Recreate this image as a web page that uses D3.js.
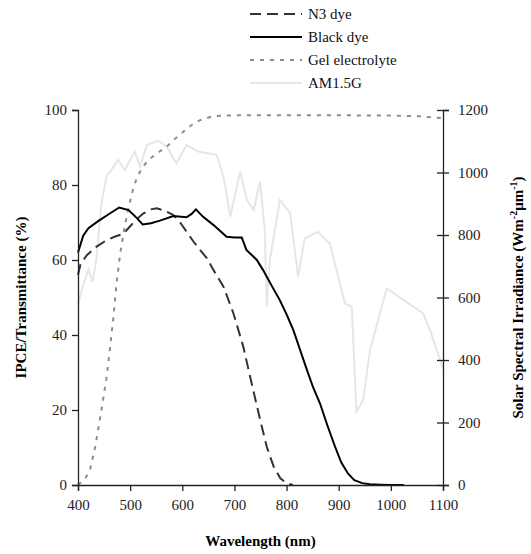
<!DOCTYPE html>
<html>
<head>
<meta charset="utf-8">
<script src="https://cdn.jsdelivr.net/npm/d3@7"></script>
<style>
  body { margin: 0; background: #fff; }
  svg text { font-family: 'Liberation Serif', 'DejaVu Serif', serif; }
  .tick text { font-size: 15px; fill: #222; }
  .axisLabel { font-size: 15px; font-weight: bold; }
  .legend text { font-size: 15px; fill: #111; }
</style>
</head>
<body>
<div id="chart"></div>
<script>
// wavelength (nm) / value pairs
var blackWl  = [400, 410, 420, 440, 461, 479, 497, 512, 524, 540, 557, 583, 608, 618, 626, 640, 660, 685, 700, 714, 723, 743, 755, 770, 787, 800, 813, 826, 839, 851, 864, 878, 893, 905, 918, 930, 945, 960, 980, 1000, 1025];
var blackVal = [62, 66.5, 68.5, 70.5, 72.4, 74, 73.3, 71.3, 69.5, 69.8, 70.5, 71.7, 71.4, 72.3, 73.5, 71.5, 69.3, 66.2, 66, 66, 62.7, 60, 57.3, 53.5, 49.3, 45.5, 41.3, 36, 30.7, 26, 21.8, 16, 10.2, 6, 3, 1.3, 0.5, 0.2, 0.1, 0, 0];

var n3Wl  = [400, 405, 417, 435, 455, 470, 487, 500, 512, 525, 540, 551, 565, 583, 596, 608, 621, 634, 647, 660, 679, 698, 717, 736, 750, 762, 775, 788, 800, 812];
var n3Val = [56, 59, 61.3, 63.5, 65.3, 66.2, 67, 69, 70.8, 72.4, 73.5, 73.8, 73.2, 72, 70, 67.6, 65, 62.7, 60.5, 57.3, 52.9, 45.8, 36.9, 25.3, 17, 10.2, 5, 1.8, 0.5, 0];

var gelWl  = [400, 407, 415, 423, 433, 445, 455, 461, 468, 474, 481, 489, 497, 505, 513, 525, 538, 555, 570, 585, 602, 618, 634, 660, 700, 800, 900, 1000, 1060, 1080, 1100];
var gelVal = [0, 0.9, 2, 4, 10.2, 20, 28.9, 36, 44.9, 53.8, 61.8, 68.5, 74, 78.5, 82, 85, 87, 88.8, 90.2, 92.2, 94.2, 96, 97.3, 98.4, 98.6, 98.6, 98.6, 98.5, 98.3, 98, 97.8];

var amWl  = [400, 410, 420, 428, 435, 445, 455, 465, 477, 490, 500, 509, 519, 532, 554, 570, 589, 608, 631, 666, 680, 692, 711, 724, 737, 749, 758, 762, 768, 787, 807, 822, 835, 860, 883, 912, 925, 934, 947, 960, 992, 1062, 1075, 1100];
var amVal = [580, 640, 690, 650, 720, 900, 990, 1010, 1040, 1008, 1040, 1067, 1019, 1088, 1102, 1083, 1029, 1088, 1067, 1056, 980, 859, 1003, 912, 880, 971, 820, 571, 720, 912, 869, 667, 790, 810, 773, 581, 571, 235, 272, 432, 629, 549, 496, 373];

var xTicks = [400, 500, 600, 700, 800, 900, 1000, 1100];
var yLeftTicks = [0, 20, 40, 60, 80, 100];
var yRightTicks = [0, 200, 400, 600, 800, 1000, 1200];

var legendNames = ["N3 dye", "Black dye", "Gel electrolyte", "AM1.5G"];

var width = 531;
var height = 554;
var margin = { top: 110, right: 88, bottom: 69, left: 78 };
var serif = "'Liberation Serif', 'DejaVu Serif', serif";

var svg = d3.select("#chart")
  .append("svg")
  .attr("width", width)
  .attr("height", height)
  .attr("font-family", serif);

var xScale = d3.scaleLinear()
  .domain([400, 1100])
  .range([margin.left, width - margin.right]);

var yLeft = d3.scaleLinear()
  .domain([0, 100])
  .range([height - margin.bottom, margin.top]);

var yRight = d3.scaleLinear()
  .domain([0, 1200])
  .range([height - margin.bottom, margin.top]);

function zip(a, b) {
  return a.map(function(d, i) { return [d, b[i]]; });
}

var lineLeft = d3.line()
  .x(function(d) { return xScale(d[0]); })
  .y(function(d) { return yLeft(d[1]); });

var lineRight = d3.line()
  .x(function(d) { return xScale(d[0]); })
  .y(function(d) { return yRight(d[1]); });

// series, drawn back to front
svg.append("path")
  .datum(zip(amWl, amVal))
  .attr("d", lineRight)
  .attr("fill", "none")
  .attr("stroke", "#e6e6e6")
  .attr("stroke-width", 2);

svg.append("path")
  .datum(zip(gelWl, gelVal))
  .attr("d", lineLeft)
  .attr("fill", "none")
  .attr("stroke", "#8c8c8c")
  .attr("stroke-width", 2)
  .attr("stroke-dasharray", "4,6");

svg.append("path")
  .datum(zip(n3Wl, n3Val))
  .attr("d", lineLeft)
  .attr("fill", "none")
  .attr("stroke", "#333")
  .attr("stroke-width", 2)
  .attr("stroke-dasharray", "11,6");

svg.append("path")
  .datum(zip(blackWl, blackVal))
  .attr("d", lineLeft)
  .attr("fill", "none")
  .attr("stroke", "#000")
  .attr("stroke-width", 2);

// axes
var xAxis = svg.append("g")
  .attr("transform", `translate(0,${height - margin.bottom})`)
  .call(d3.axisBottom(xScale).tickValues(xTicks).tickSize(6).tickPadding(8).tickFormat(d3.format("d")));

var yAxisLeft = svg.append("g")
  .attr("transform", `translate(${margin.left},0)`)
  .call(d3.axisLeft(yLeft).tickValues(yLeftTicks).tickSize(6).tickPadding(5));

var yAxisRight = svg.append("g")
  .attr("transform", `translate(${width - margin.right},0)`)
  .call(d3.axisRight(yRight).tickValues(yRightTicks).tickSize(6).tickPadding(9).tickFormat(d3.format("d")));

// right axis ticks cross the line
yAxisRight.selectAll(".tick line").attr("x1", -6);

svg.selectAll("g").attr("font-family", serif).attr("font-size", 15);
svg.selectAll(".domain").attr("stroke", "#222").attr("stroke-width", 1.3);
svg.selectAll(".tick line").attr("stroke", "#222").attr("stroke-width", 1.3);

// axis titles
svg.append("text")
  .attr("class", "axisLabel")
  .attr("x", (margin.left + width - margin.right) / 2)
  .attr("y", height - 8)
  .attr("text-anchor", "middle")
  .text("Wavelength (nm)");

svg.append("text")
  .attr("class", "axisLabel")
  .attr("transform", "rotate(-90)")
  .attr("x", -(margin.top + height - margin.bottom) / 2)
  .attr("y", 26)
  .attr("text-anchor", "middle")
  .text("IPCE/Transmittance (%)");

var rightLabel = svg.append("text")
  .attr("class", "axisLabel")
  .attr("transform", "rotate(-90)")
  .attr("x", -(margin.top + height - margin.bottom) / 2)
  .attr("y", 523)
  .attr("text-anchor", "middle");
rightLabel.append("tspan").text("Solar Spectral Irradiance (Wm");
rightLabel.append("tspan").attr("dy", -6).attr("font-size", "10px").text("-2");
rightLabel.append("tspan").attr("dy", 6).text("μm");
rightLabel.append("tspan").attr("dy", -6).attr("font-size", "10px").text("-1");
rightLabel.append("tspan").attr("dy", 6).text(")");

// legend
var legendStyles = [
  { stroke: "#333", dash: "11,6" },
  { stroke: "#000", dash: null },
  { stroke: "#8c8c8c", dash: "4,6" },
  { stroke: "#e6e6e6", dash: null }
];

var legend = svg.append("g").attr("class", "legend");

var rows = legend.selectAll("g")
  .data(legendNames)
  .enter()
  .append("g")
  .attr("transform", function(d, i) { return `translate(250,${14 + i * 23})`; });

rows.append("line")
  .attr("x1", 0)
  .attr("x2", 52)
  .attr("stroke", function(d, i) { return legendStyles[i].stroke; })
  .attr("stroke-width", 2)
  .attr("stroke-dasharray", function(d, i) { return legendStyles[i].dash; });

rows.append("text")
  .attr("x", 58)
  .attr("y", 5)
  .text(function(d) { return d; });
</script>
</body>
</html>
